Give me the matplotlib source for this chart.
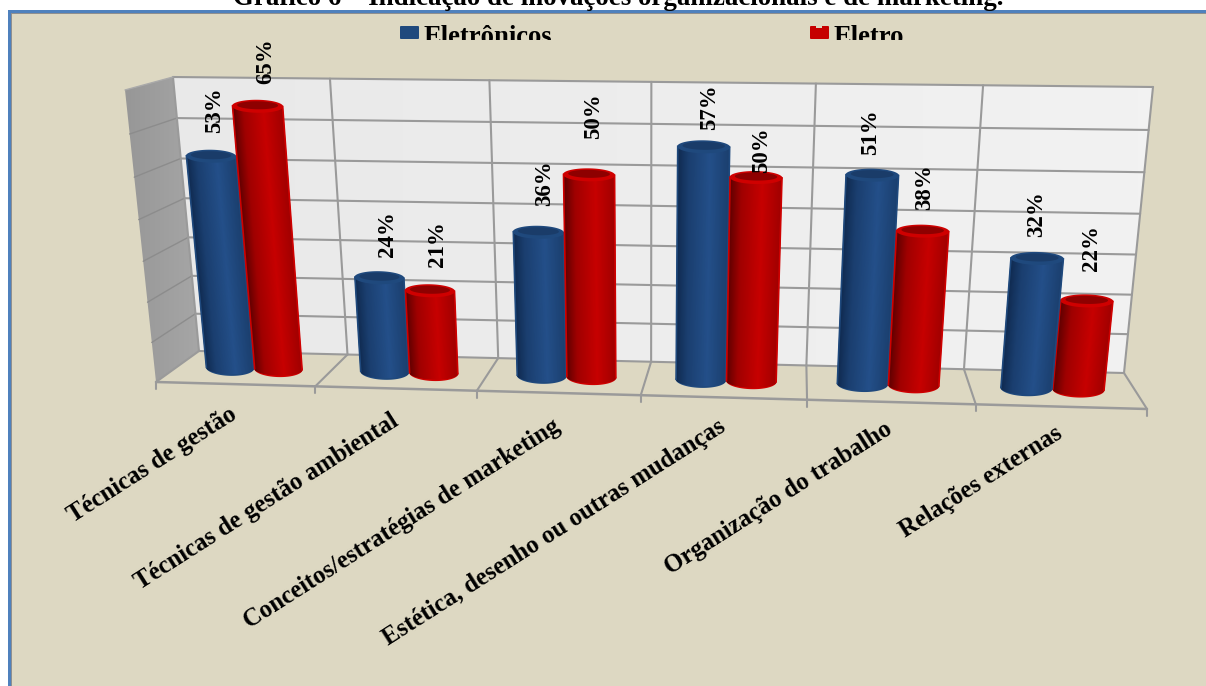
import numpy as np
import matplotlib
matplotlib.use("Agg")
import matplotlib.pyplot as plt
from matplotlib.patches import Polygon, Rectangle, FancyBboxPatch
from matplotlib.collections import PolyCollection

plt.rcParams['font.family'] = ['Liberation Serif', 'DejaVu Serif']

categorias = ["Técnicas de gestão", "Técnicas de gestão ambiental",
              "Conceitos/estratégias de marketing",
              "Estética, desenho ou outras mudanças",
              "Organização do trabalho", "Relações externas"]
eletronicos = [53, 24, 36, 57, 51, 32]
eletro = [65, 21, 50, 50, 38, 22]
titulo = "Gráfico 6 – Indicação de inovações organizacionais e de marketing."

W, H = 1206, 686
VMAX = 70
N = len(categorias)
BG = "#DDD8C2"
GRID = "#9a9a9a"


def homografia(src, dst):
    A = []
    for (x, y), (a, b) in zip(src, dst):
        A.append([x, y, 1, 0, 0, 0, -a * x, -a * y])
        A.append([0, 0, 0, x, y, 1, -b * x, -b * y])
    h = np.linalg.solve(np.array(A, float), np.array(dst, float).ravel())
    return np.append(h, 1).reshape(3, 3)


cantos = [(0, 0), (N, 0), (N, VMAX), (0, VMAX)]
H_fundo = homografia(cantos, [(199, 351), (1124, 373), (1153, 87), (173, 77)])
H_frente = homografia(cantos, [(156, 382), (1147, 409), (1181, 105), (125, 90)])


def aplica(M, u, v):
    p = M @ np.array([u, v, 1.0])
    return p[:2] / p[2]


def proj(u, v, w=0.0):
    # w: 0 = parede do fundo, 1 = frente do piso
    return (1 - w) * aplica(H_fundo, u, v) + w * aplica(H_frente, u, v)


fig = plt.figure(figsize=(W / 100, H / 100), dpi=100, facecolor="white")
ax = fig.add_axes([0, 0, 1, 1])
ax.set_xlim(0, W)
ax.set_ylim(H, 0)
ax.axis("off")

# moldura
ax.add_patch(Rectangle((8, 10), W, H, fc="#4F81BD", ec="none", zorder=0))
ax.add_patch(Rectangle((10.5, 12.5), W, H, fc="#8f8f8f", ec="none", zorder=0.1))
ax.add_patch(Rectangle((12, 14), W, H, fc=BG, ec="none", zorder=0.2))

ax.text(618, 5, titulo, ha="center", va="baseline", fontsize=19.4, fontweight="bold", color="black")


# paredes
def gradiente(pts, c1, c2, z):
    pts = np.array(pts)
    cmap = matplotlib.colors.LinearSegmentedColormap.from_list("g", [c1, c2])
    im = ax.imshow(np.linspace(0, 1, 64).reshape(1, -1), cmap=cmap, aspect="auto", zorder=z,
                   extent=(pts[:, 0].min(), pts[:, 0].max(), pts[:, 1].max(), pts[:, 1].min()))
    pol = Polygon(pts, transform=ax.transData, fc="none", ec="none")
    ax.add_patch(pol)
    im.set_clip_path(pol)


fundo = [proj(0, 0), proj(N, 0), proj(N, VMAX), proj(0, VMAX)]
gradiente(fundo, "#e9e9e9", "#f2f2f2", 1)
esquerda = [proj(0, 0), proj(0, VMAX), proj(0, VMAX, 1), proj(0, 0, 1)]
gradiente(esquerda, "#979797", "#a6a6a6", 1)
ax.set_xlim(0, W)
ax.set_ylim(H, 0)


def linha(a, b, lw=1.5, c=GRID, z=2):
    ax.plot([a[0], b[0]], [a[1], b[1]], color=c, lw=lw, zorder=z, solid_capstyle="round")


for v in range(0, VMAX + 1, 10):
    linha(proj(0, v), proj(N, v))
    if 0 < v < VMAX:
        linha(proj(0, v), proj(0, v, 1), lw=1.0, c="#8c8c8c")
for u in range(N + 1):
    linha(proj(u, 0), proj(u, VMAX))
    linha(proj(u, 0), proj(u, 0, 1))
    f = proj(u, 0, 1)
    linha(f, f + np.array([0, 7]))
linha(proj(0, 0, 1), proj(N, 0, 1), lw=1.8)
linha(proj(0, VMAX), proj(0, VMAX, 1), lw=1.0, c="#aaaaaa")

AZUL = dict(stops=["#0f2a50", "#1b3f70", "#24508a", "#1b3f6e"], rim="#1f497d", tampa="#1a3c69")
VERMELHO = dict(stops=["#5e0000", "#a00000", "#c80000", "#a00000"], rim="#cf0000", tampa="#8e0000")


def elipse(c, a, b, t):
    return np.column_stack([c[0] + a[0] * np.cos(t), c[1] + a[1] * np.cos(t) + b * np.sin(t)])


def cilindro(u, valor, estilo, z, w=0.5, r=0.157):
    base = proj(u, 0, w)
    topo = proj(u, valor, w)
    a_b = proj(u + r, 0, w) - base
    a_t = proj(u + r, valor, w) - topo
    s = np.linspace(0, 1, 61)
    t = np.arccos(1 - 2 * s)  # faixas de largura igual na tela, da esquerda para a direita
    t = np.pi - t
    tt = np.linspace(0, 2 * np.pi, 80)
    # aro da base
    ax.add_patch(Polygon(elipse(base, a_b, 8, tt), fc=estilo["rim"], ec="none", zorder=z))
    ebot = elipse(base, a_b * 0.98, 6, t)
    etop = elipse(topo, a_t * 0.98, 6, t)
    # fundo liso para as emendas entre as faixas não aparecerem
    ax.add_patch(Polygon(np.vstack([etop, ebot[::-1]]), fc=estilo["stops"][1], ec="none", zorder=z + 0.05))
    quads = [[etop[i], etop[i + 1], ebot[i + 1], ebot[i]] for i in range(60)]
    rgb = np.array([matplotlib.colors.to_rgb(c) for c in estilo["stops"]])
    cores = np.column_stack([np.interp(s[:-1], [0, 0.22, 0.62, 1], rgb[:, k]) for k in range(3)])
    ax.add_collection(PolyCollection(quads, facecolors=cores, edgecolors=cores, linewidths=0.4, zorder=z + 0.1))
    # bordas laterais
    for i in (0, -1):
        ax.plot([etop[i][0], ebot[i][0]], [etop[i][1], ebot[i][1]], color=estilo["rim"], lw=1.2, zorder=z + 0.2)
    ax.add_patch(Polygon(elipse(topo, a_t, 6.5, tt), fc=estilo["rim"], ec="none", zorder=z + 0.3))
    ax.add_patch(Polygon(elipse(topo - np.array([0, 1]), a_t * 0.8, 4, tt), fc=estilo["tampa"], ec="none", zorder=z + 0.4))
    return topo


# ajustes manuais dos rótulos (como no gráfico original, não são regulares)
ajuste_az = [(3, -46), (8, -44), (6, -49), (6, -40), (-2, -43), (-1, -44)]
ajuste_vm = [(8, -45), (8, -47), (5, -59), (6, -27), (2, -44), (5, -53)]

for i in range(N):
    ua, uv = i + 0.5 - 0.157, i + 0.5 + 0.157
    z = 3 + i
    # na última categoria o azul fica na frente
    za, zv = (z + 0.5, z) if i == N - 1 else (z, z + 0.5)
    ta = cilindro(ua, eletronicos[i], AZUL, za)
    tv = cilindro(uv, eletro[i], VERMELHO, zv)
    for topo, val, aj in ((ta, eletronicos[i], ajuste_az[i]), (tv, eletro[i], ajuste_vm[i])):
        ax.text(topo[0] + aj[0], topo[1] + aj[1], f"{val}%", rotation=90, ha="center", va="center",
                fontsize=16.5, fontweight="bold", color="black", zorder=20)

# rótulos do eixo
fim_x = [229, 390, 552, 717, 884, 1054]
fim_y = [403, 409, 415, 415, 417, 422]
for nome, x, y in zip(categorias, fim_x, fim_y):
    ax.text(x, y, nome, rotation=32.5, ha="right", va="top", rotation_mode="anchor",
            fontsize=17.8, fontweight="bold", color="black", zorder=20)

# legenda (cortada embaixo, como no original)
corte = Rectangle((0, 0), W, 39.5, transform=ax.transData)
for x, cor, nome in ((400, "#1F497D", "Eletrônicos"), (810, "#C60000", "Eletro")):
    ax.add_patch(FancyBboxPatch((x + 1, 27), 17, 11, boxstyle="round,pad=1", fc=cor, ec="none", zorder=5))
    t = ax.text(x + 23, 44, nome, ha="left", va="baseline", fontsize=19.2, fontweight="bold", color="black", zorder=5)
    t.set_clip_on(True)
    t.set_clip_path(corte)
ax.add_patch(Rectangle((816, 25), 6, 2.5, fc=BG, ec="none", zorder=6))

fig.savefig("out.png", dpi=100, facecolor="white")
